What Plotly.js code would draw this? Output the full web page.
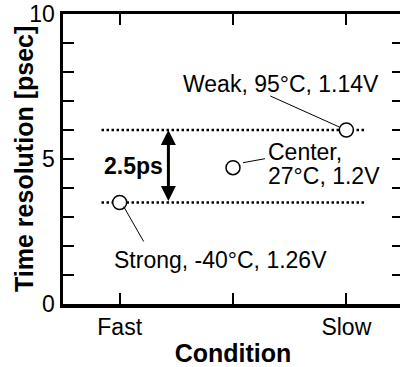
<!DOCTYPE html>
<html>
<head>
<meta charset="utf-8">
<script src="https://cdn.plot.ly/plotly-3.0.1.min.js"></script>
<style>
  html, body { margin: 0; padding: 0; overflow: hidden; background: #fff; }
  #chart { width: 406px; height: 367px; }
</style>
</head>
<body>
<div id="chart"></div>
<script>
// Process corners: condition position on the x axis and measured time resolution
const categories = ['Fast', '', 'Slow'];
const categoryPos = [1, 2, 3];
const cornerNames = ['Strong', 'Center', 'Weak'];
const temperatures = [-40, 27, 95];
const voltages = ['1.26', '1.2', '1.14'];
const resolution = [3.5, 4.7, 6.0];   // psec
const yTickVals = [0, 1, 2, 3, 4, 5, 6, 7, 8, 9, 10];
const yTickText = ['0', '', '', '', '', '5', '', '', '', '', '10'];

const FONT = 'Arial, "Liberation Sans", sans-serif';
const iStrong = 0, iCenter = 1, iWeak = 2;
const bandX = [0.84, 3.17];         // span of the dotted reference levels
const arrowX = 1.43;                 // where the spread arrow sits
const spread = resolution[iWeak] - resolution[iStrong];

function cornerHead(i) { return cornerNames[i] + ','; }
function cornerTail(i) { return temperatures[i] + '\u00B0C, ' + voltages[i] + 'V'; }

const dotted = { color: '#000', width: 2.5, dash: '2.5px,2.5px' };

const traces = [
  { x: bandX, y: [resolution[iWeak], resolution[iWeak]], mode: 'lines',
    line: dotted, hoverinfo: 'skip', showlegend: false },
  { x: bandX, y: [resolution[iStrong], resolution[iStrong]], mode: 'lines',
    line: dotted, hoverinfo: 'skip', showlegend: false },
  { x: categoryPos, y: resolution, mode: 'markers', showlegend: false,
    marker: { symbol: 'circle', size: 14, color: '#fff',
              line: { color: '#000', width: 1.5 } } }
];

// thin leader lines from each label to its marker, offsets in pixels from the point
function leader(i, x0, y0, x1, y1) {
  return { type: 'line', xref: 'x', yref: 'y',
           xsizemode: 'pixel', ysizemode: 'pixel',
           xanchor: categoryPos[i], yanchor: resolution[i],
           x0: x0, y0: y0, x1: x1, y1: y1,
           line: { color: '#000', width: 1 } };
}

const labelFont = { family: FONT, size: 23, color: '#000' };
function pointLabel(i, text, xanchor, xshift, yshift) {
  return { x: categoryPos[i], y: resolution[i], xref: 'x', yref: 'y',
           text: text, showarrow: false, font: labelFont,
           xanchor: xanchor, yanchor: 'middle', xshift: xshift, yshift: yshift };
}

const layout = {
  width: 406, height: 367,
  margin: { l: 63, r: 3, t: 14, b: 63 },
  paper_bgcolor: '#fff', plot_bgcolor: '#fff',
  font: { family: FONT, color: '#000' },
  showlegend: false,
  xaxis: {
    range: [0.5, 3.5], tickmode: 'array', tickvals: categoryPos, ticktext: categories,
    ticks: 'inside', ticklen: 11, tickwidth: 2, tickcolor: '#000',
    showline: true, linewidth: 3.5, linecolor: '#000', mirror: 'ticks',
    showgrid: false, zeroline: false,
    tickfont: { family: FONT, size: 23, color: '#000' },
    title: { text: 'Condition', standoff: 6,
             font: { family: FONT, size: 25, weight: 'bold', color: '#000' } }
  },
  yaxis: {
    range: [0, 10], tickmode: 'array', tickvals: yTickVals, ticktext: yTickText,
    ticks: 'inside', ticklen: 11, tickwidth: 2, tickcolor: '#000',
    showline: true, linewidth: 3.5, linecolor: '#000', mirror: 'ticks',
    showgrid: false, zeroline: false,
    tickfont: { family: FONT, size: 23, color: '#000' }
  },
  shapes: [
    leader(iWeak, -76, 34, -7, 3),
    leader(iCenter, 10, 5, 32, 9),
    leader(iStrong, 4, -4, 24, -39)
  ],
  annotations: [
    pointLabel(iWeak, cornerHead(iWeak) + ' ' + cornerTail(iWeak), 'center', -65, 46),
    pointLabel(iCenter, cornerHead(iCenter), 'left', 33, 16),
    pointLabel(iCenter, cornerTail(iCenter), 'left', 33, -8),
    pointLabel(iStrong, cornerHead(iStrong) + ' ' + cornerTail(iStrong), 'left', -8, -57),
    // y-axis title
    { xref: 'paper', yref: 'paper', x: 0, y: 0.5, xshift: -39,
      text: 'Time resolution [psec]', textangle: -90, showarrow: false,
      xanchor: 'center', yanchor: 'middle',
      font: { family: FONT, size: 25, weight: 'bold', color: '#000' } },
    // double-headed arrow spanning the two dotted levels
    { x: arrowX, y: resolution[iWeak], xref: 'x', yref: 'y',
      ax: arrowX, ay: resolution[iStrong], axref: 'x', ayref: 'y',
      text: '', showarrow: true, arrowside: 'end+start',
      arrowhead: 2, startarrowhead: 2, arrowsize: 1, startarrowsize: 1,
      arrowwidth: 3, arrowcolor: '#000', standoff: 0, startstandoff: 0 },
    { x: arrowX, y: (resolution[iWeak] + resolution[iStrong]) / 2, xref: 'x', yref: 'y',
      text: '<b>' + spread.toFixed(1) + 'ps</b>', showarrow: false,
      font: { family: FONT, size: 23, color: '#000' },
      xanchor: 'right', yanchor: 'middle', xshift: -3, yshift: 0 }
  ]
};

Plotly.newPlot('chart', traces, layout, { staticPlot: true, displayModeBar: false });
</script>
</body>
</html>
